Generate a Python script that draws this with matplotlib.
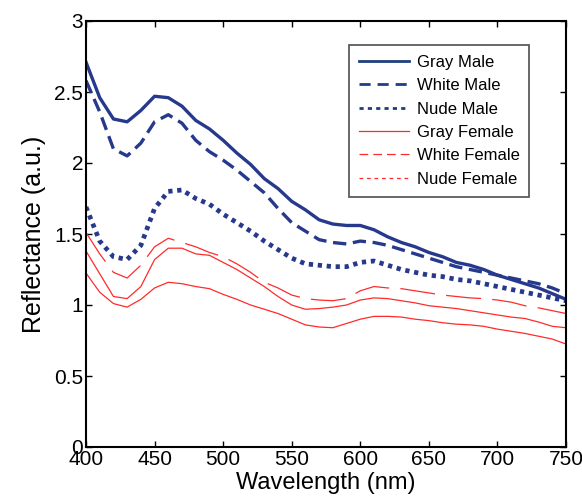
import matplotlib
matplotlib.use('Agg')
import matplotlib.pyplot as plt
import numpy as np
from matplotlib.lines import Line2D

plt.rcParams['font.family'] = ['Liberation Sans', 'DejaVu Sans']

wavelength = np.arange(400, 751, 10)

gray_male = [2.71, 2.46, 2.31, 2.29, 2.37, 2.47, 2.46, 2.40, 2.30, 2.24, 2.16, 2.07,
             1.99, 1.89, 1.82, 1.73, 1.67, 1.60, 1.57, 1.56, 1.56, 1.53, 1.48, 1.44,
             1.41, 1.37, 1.34, 1.30, 1.28, 1.25, 1.21, 1.18, 1.15, 1.12, 1.08, 1.04]
white_male = [2.58, 2.36, 2.10, 2.05, 2.14, 2.29, 2.34, 2.28, 2.16, 2.08, 2.02, 1.95,
              1.87, 1.79, 1.68, 1.58, 1.52, 1.46, 1.44, 1.43, 1.45, 1.44, 1.42, 1.39,
              1.36, 1.33, 1.30, 1.27, 1.25, 1.23, 1.21, 1.19, 1.17, 1.15, 1.12, 1.08]
nude_male = [1.69, 1.45, 1.34, 1.32, 1.42, 1.68, 1.80, 1.81, 1.75, 1.71, 1.64, 1.58,
             1.52, 1.45, 1.39, 1.33, 1.29, 1.28, 1.27, 1.27, 1.30, 1.31, 1.28, 1.25,
             1.23, 1.21, 1.20, 1.18, 1.17, 1.15, 1.13, 1.11, 1.09, 1.07, 1.05, 1.03]
gray_female = [1.38, 1.22, 1.06, 1.045, 1.13, 1.32, 1.40, 1.40, 1.36, 1.35, 1.30, 1.25,
               1.19, 1.13, 1.06, 1.00, 0.97, 0.975, 0.985, 1.00, 1.035, 1.05, 1.045, 1.03,
               1.015, 0.995, 0.985, 0.975, 0.96, 0.945, 0.93, 0.915, 0.905, 0.88, 0.85, 0.84]
white_female = [1.51, 1.36, 1.23, 1.19, 1.28, 1.41, 1.47, 1.44, 1.41, 1.37, 1.34, 1.29,
                1.23, 1.16, 1.12, 1.07, 1.045, 1.035, 1.03, 1.045, 1.10, 1.13, 1.12, 1.115,
                1.10, 1.085, 1.07, 1.06, 1.05, 1.045, 1.035, 1.02, 0.995, 0.98, 0.96, 0.94]
nude_female = [1.225, 1.09, 1.01, 0.985, 1.04, 1.12, 1.16, 1.15, 1.13, 1.115, 1.075, 1.04,
               1.00, 0.97, 0.94, 0.90, 0.86, 0.845, 0.84, 0.87, 0.90, 0.92, 0.92, 0.915,
               0.90, 0.89, 0.875, 0.865, 0.86, 0.85, 0.83, 0.815, 0.80, 0.78, 0.76, 0.725]

blue = '#26398c'
red = '#ff2b2b'

fig = plt.figure(figsize=(5.82, 5.04), dpi=100)
ax = fig.add_axes([86 / 582, 1 - 447 / 504, 480 / 582, 426 / 504])

ax.plot(wavelength, gray_male, color=blue, lw=2.4)
ax.plot(wavelength, white_male, color=blue, lw=2.4, dashes=(4, 2))
ax.plot(wavelength, nude_male, color=blue, lw=3.4, dashes=(0.9, 1.0), dash_capstyle='butt')
ax.plot(wavelength, white_female, color=red, lw=0.9, dashes=(28, 9))
ax.plot(wavelength, gray_female, color=red, lw=0.9)
ax.plot(wavelength, nude_female, color=red, lw=0.9)

ax.set_xlim(400, 750)
ax.set_ylim(0, 3)
ax.set_xticks(np.arange(400, 751, 50))
ax.set_yticks([0, 0.5, 1, 1.5, 2, 2.5, 3])
ax.set_yticklabels(['0', '0.5', '1', '1.5', '2', '2.5', '3'])
ax.tick_params(direction='in', length=4, width=1, labelsize=15, pad=2,
               top=True, right=True)
for s in ax.spines.values():
    s.set_linewidth(1.5)
ax.set_xlabel('Wavelength (nm)', fontsize=17, labelpad=2)
ax.set_ylabel('Reflectance (a.u.)', fontsize=18, labelpad=6)

# legend drawn with its own handle styles (as in the reference)
leg_blue = '#1f3f7f'
handles = [
    Line2D([], [], color=leg_blue, lw=2),
    Line2D([], [], color=leg_blue, lw=2, dashes=(4, 2.5)),
    Line2D([], [], color=leg_blue, lw=2, dashes=(1.5, 1.5)),
    Line2D([], [], color=red, lw=0.9),
    Line2D([], [], color=red, lw=0.9, dashes=(7, 4)),
    Line2D([], [], color=red, lw=0.9, dashes=(3, 3)),
]
labels = ['Gray Male', 'White Male', 'Nude Male', 'Gray Female', 'White Female', 'Nude Female']
leg = ax.legend(handles, labels, loc='upper left', bbox_to_anchor=(0.548, 0.944),
                fontsize=12, frameon=True, fancybox=False, handlelength=3.0,
                handletextpad=0.45, labelspacing=0.5, borderpad=0.6, borderaxespad=0)
leg.get_frame().set_edgecolor('#333333')
leg.get_frame().set_linewidth(1.3)

fig.savefig('out.png', dpi=100)
